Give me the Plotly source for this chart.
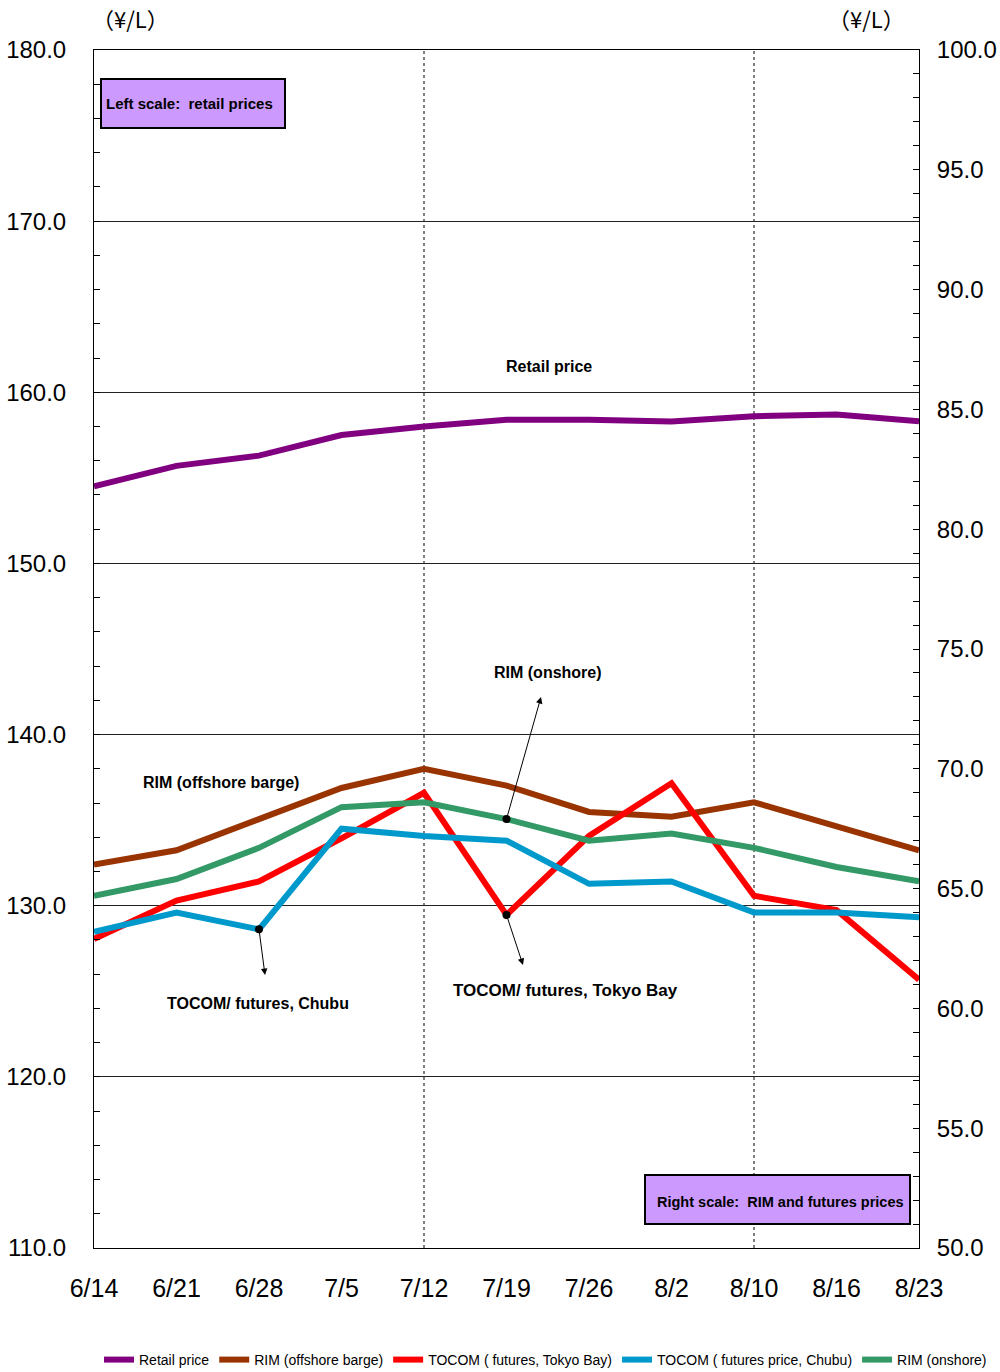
import plotly.graph_objects as go

# Weekly observation dates
dates = ["6/14", "6/21", "6/28", "7/5", "7/12", "7/19", "7/26", "8/2", "8/10", "8/16", "8/23"]

# Left scale (yen per litre)
retail_price = [154.5, 155.7, 156.3, 157.5, 158.0, 158.4, 158.4, 158.3, 158.6, 158.7, 158.3]

# Right scale (yen per litre)
rim_offshore = [66.0, 66.6, 67.9, 69.2, 70.0, 69.3, 68.2, 68.0, 68.6, 67.6, 66.6]
tocom_tokyo = [62.9, 64.5, 65.3, 67.1, 69.0, 63.9, 67.2, 69.4, 64.7, 64.1, 61.2]
tocom_chubu = [63.2, 64.0, 63.3, 67.5, 67.2, 67.0, 65.2, 65.3, 64.0, 64.0, 63.8]
rim_onshore = [64.7, 65.4, 66.7, 68.4, 68.6, 67.9, 67.0, 67.3, 66.7, 65.9, 65.3]

left_ticks = [110, 120, 130, 140, 150, 160, 170, 180]
right_ticks = [50, 55, 60, 65, 70, 75, 80, 85, 90, 95, 100]

SANS = "Liberation Sans, Arial, sans-serif"
TICK_FONT = dict(family=SANS, size=24, color="#000")
XTICK_FONT = dict(family=SANS, size=25, color="#000")


def bold(size):
    return dict(family=SANS, size=size, color="#000", weight="bold")


# Figure geometry (pixels)
W, H = 1000, 1372
L, R, T, B = 94, 81, 50, 124
pw, ph = W - L - R, H - T - B


def px(xp):
    return (xp - L) / pw


def py(yp):
    return 1 - (yp - T) / ph


xi = list(range(len(dates)))

fig = go.Figure()

fig.add_trace(go.Scatter(x=xi, y=retail_price, name="Retail price", mode="lines",
                         line=dict(color="#800080", width=6), yaxis="y"))
fig.add_trace(go.Scatter(x=xi, y=rim_offshore, name="RIM (offshore barge)", mode="lines",
                         line=dict(color="#993300", width=6), yaxis="y2"))
fig.add_trace(go.Scatter(x=xi, y=tocom_tokyo, name="TOCOM ( futures, Tokyo Bay)", mode="lines",
                         line=dict(color="#FF0000", width=6), yaxis="y2"))
fig.add_trace(go.Scatter(x=xi, y=tocom_chubu, name="TOCOM ( futures price, Chubu)", mode="lines",
                         line=dict(color="#0099CC", width=6), yaxis="y2"))
fig.add_trace(go.Scatter(x=xi, y=rim_onshore, name="RIM (onshore)", mode="lines",
                         line=dict(color="#339966", width=6), yaxis="y2"))

# Callouts: (series, point index, label, label centre px, arrow head px)
callouts = [
    (rim_onshore, 5, "RIM (onshore)", (548, 672), (541, 697)),
    (tocom_chubu, 2, "TOCOM/ futures, Chubu", (258, 1003), (265, 975)),
    (tocom_tokyo, 5, "TOCOM/ futures, Tokyo Bay", (565, 990), (523, 965)),
]
fig.add_trace(go.Scatter(x=[c[1] for c in callouts], y=[c[0][c[1]] for c in callouts],
                         mode="markers", marker=dict(color="#000", size=8),
                         yaxis="y2", showlegend=False, hoverinfo="skip"))


def xval(xp):
    return (xp - L) / pw * (len(dates) - 1)


def y2val(yp):
    return 100 - (yp - T) / ph * 50


def label(x, y, text, font, xanchor="center"):
    return dict(x=px(x), y=py(y), xref="paper", yref="paper", text=text, showarrow=False,
                font=font, xanchor=xanchor, yanchor="middle")


annotations = []
for series, idx, text, (lxp, lyp), (hxp, hyp) in callouts:
    annotations.append(dict(x=xval(hxp), y=y2val(hyp), xref="x", yref="y2",
                            ax=idx, ay=series[idx], axref="x", ayref="y2", text="",
                            showarrow=True, arrowhead=2, arrowsize=1.3, arrowwidth=1,
                            arrowcolor="#000"))
    annotations.append(label(lxp, lyp, text, bold(17 if "Tokyo" in text else 16)))

YEN_FONT = dict(family="Noto Sans CJK JP, sans-serif", size=22, color="#000")
annotations += [
    label(549, 366, "Retail price", bold(16)),
    label(221, 782, "RIM (offshore barge)", bold(16)),
    label(104, 103.5, "Left scale:  retail prices", bold(15), xanchor="left"),
    label(906, 1201.5, "Right scale:  RIM and futures prices", bold(14.5), xanchor="right"),
    label(130, 18, "（¥/L）", YEN_FONT),
    label(866, 18, "（¥/L）", YEN_FONT),
]

shapes = [
    dict(type="rect", xref="paper", yref="paper", x0=px(101), y0=py(128), x1=px(285), y1=py(79),
         fillcolor="#CC99FF", line=dict(color="#000", width=2), layer="above"),
    dict(type="rect", xref="paper", yref="paper", x0=px(645), y0=py(1224), x1=px(910), y1=py(1175),
         fillcolor="#CC99FF", line=dict(color="#000", width=2), layer="above"),
]
for d in ["7/12", "8/10"]:
    shapes.append(dict(type="line", xref="x", yref="paper", x0=dates.index(d), x1=dates.index(d),
                       y0=0, y1=1, line=dict(color="#000", width=1, dash="dot"), layer="below"))

fig.update_layout(
    width=W, height=H,
    margin=dict(l=L, r=R, t=T, b=B, autoexpand=False),
    plot_bgcolor="#fff", paper_bgcolor="#fff",
    showlegend=True,
    # anchored right of the plot area so the single row may span the full page width
    legend=dict(orientation="h", x=px(992), xanchor="right", y=py(1360), yanchor="middle",
                font=dict(family=SANS, size=14, color="#000"),
                itemwidth=30, tracegroupgap=0, traceorder="normal"),
    xaxis=dict(range=[0, len(dates) - 1], tickvals=xi, ticktext=dates,
               showgrid=False, showline=True, linecolor="#000", linewidth=1, ticks="",
               tickfont=XTICK_FONT, ticklabelstandoff=18, zeroline=False, mirror=True,
               automargin=False),
    yaxis=dict(range=[110, 180], tickvals=left_ticks, ticktext=["%.1f" % v for v in left_ticks],
               showgrid=True, gridcolor="#222", gridwidth=1, showline=True, linecolor="#000",
               linewidth=1, ticks="inside", ticklen=6, tickcolor="#000", tickfont=TICK_FONT,
               ticklabelstandoff=22, zeroline=False, automargin=False,
               minor=dict(dtick=2, ticks="inside", ticklen=6, tickcolor="#000", showgrid=False)),
    yaxis2=dict(range=[50, 100], tickvals=right_ticks, ticktext=["%.1f" % v for v in right_ticks],
                overlaying="y", side="right", showgrid=False, showline=True, linecolor="#000",
                linewidth=1, ticks="inside", ticklen=6, tickcolor="#000", tickfont=TICK_FONT,
                ticklabelstandoff=12, zeroline=False, automargin=False,
                minor=dict(dtick=1, ticks="inside", ticklen=6, tickcolor="#000", showgrid=False)),
    annotations=annotations,
    shapes=shapes,
)

fig.write_html("out.html")
